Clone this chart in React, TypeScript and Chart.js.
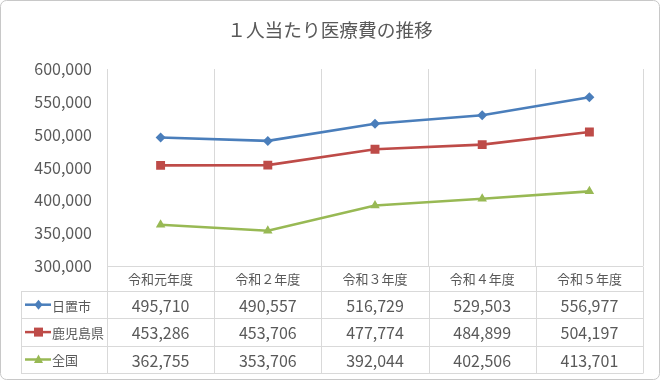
import React, { useEffect, useRef } from "react";
import { Chart, registerables } from "chart.js";

Chart.register(...registerables);

const titleText = "１人当たり医療費の推移";
const categories = ["令和元年度", "令和２年度", "令和３年度", "令和４年度", "令和５年度"];
const seriesNames = ["日置市", "鹿児島県", "全国"];
const hiokiValues = [495710, 490557, 516729, 529503, 556977];
const kagoshimaValues = [453286, 453706, 477774, 484899, 504197];
const nationalValues = [362755, 353706, 392044, 402506, 413701];
const yMin = 300000;
const yMax = 600000;
const yStep = 50000;

const FONT = "'Noto Sans CJK JP', 'Noto Sans', sans-serif";
const TEXT = "#595959";
const GRID = "#D9D9D9";
const COLORS = ["#4A7EBB", "#BE4B48", "#98B954"];
const STYLES = ["rectRot", "rect", "triangle"];

const fmt = (v: number) => v.toLocaleString("en-US");

function drawMarker(ctx: CanvasRenderingContext2D, style: string, x: number, y: number, color: string) {
  ctx.save();
  ctx.fillStyle = color;
  ctx.beginPath();
  if (style === "rectRot") {
    ctx.moveTo(x, y - 5);
    ctx.lineTo(x + 4, y);
    ctx.lineTo(x, y + 5);
    ctx.lineTo(x - 4, y);
  } else if (style === "rect") {
    ctx.rect(x - 4.5, y - 4.5, 9, 9);
  } else {
    ctx.moveTo(x, y - 5);
    ctx.lineTo(x + 4.5, y + 3.5);
    ctx.lineTo(x - 4.5, y + 3.5);
  }
  ctx.closePath();
  ctx.fill();
  ctx.restore();
}

const frameAndTable = {
  id: "frameAndTable",
  beforeDraw(chart: any) {
    const { ctx, width, height } = chart;
    ctx.save();
    ctx.fillStyle = "#ffffff";
    ctx.fillRect(0, 0, width, height);
    ctx.strokeStyle = "#C8C8C8";
    ctx.lineWidth = 1;
    ctx.beginPath();
    (ctx as any).roundRect(0.5, 0.5, width - 1, height - 1, 6);
    ctx.stroke();
    ctx.restore();
  },
  afterDraw(chart: any) {
    const { ctx, chartArea } = chart;
    const left = chartArea.left;
    const right = chartArea.right;
    const top = chartArea.bottom;
    const n = categories.length;
    const colW = (right - left) / n;
    const headerH = 25;
    const rowH = 27.4;
    const tableLeft = 21;
    const rowsTop = top + headerH;
    const bottom = rowsTop + rowH * seriesNames.length;
    const data = [hiokiValues, kagoshimaValues, nationalValues];

    ctx.save();
    ctx.strokeStyle = GRID;
    ctx.lineWidth = 1;
    ctx.beginPath();
    const ry = (v: number) => Math.round(v) + 0.5;
    ctx.moveTo(left, ry(top));
    ctx.lineTo(right, ry(top));
    for (let i = 0; i <= seriesNames.length; i++) {
      const y = ry(rowsTop + i * rowH);
      ctx.moveTo(tableLeft, y);
      ctx.lineTo(right, y);
    }
    ctx.moveTo(ry(tableLeft), ry(rowsTop));
    ctx.lineTo(ry(tableLeft), ry(bottom));
    for (let i = 0; i <= n; i++) {
      const x = ry(left + i * colW);
      ctx.moveTo(x, ry(top));
      ctx.lineTo(x, ry(bottom));
    }
    ctx.stroke();

    ctx.fillStyle = TEXT;
    ctx.textAlign = "center";
    ctx.textBaseline = "middle";
    ctx.font = `13px ${FONT}`;
    categories.forEach((c, i) => {
      ctx.fillText(c, left + colW * (i + 0.5), top + headerH / 2 + 1);
    });

    seriesNames.forEach((name, r) => {
      const cy = rowsTop + rowH * (r + 0.5);
      ctx.strokeStyle = COLORS[r];
      ctx.lineWidth = 2.5;
      ctx.beginPath();
      ctx.moveTo(25, cy);
      ctx.lineTo(51, cy);
      ctx.stroke();
      drawMarker(ctx, STYLES[r], 38.5, cy, COLORS[r]);
      ctx.fillStyle = TEXT;
      ctx.textAlign = "left";
      ctx.font = `13px ${FONT}`;
      ctx.fillText(name, 52, cy + 1);
      ctx.textAlign = "center";
      ctx.font = `16px ${FONT}`;
      data[r].forEach((v, i) => {
        ctx.fillText(fmt(v), left + colW * (i + 0.5), cy + 1);
      });
    });
    ctx.restore();
  },
};

export default function App() {
  const ref = useRef<HTMLCanvasElement | null>(null);
  useEffect(() => {
    document.body.style.margin = "0";
    if (!ref.current) return;
    const chart = new Chart(ref.current, {
      type: "line",
      data: {
        labels: categories,
        datasets: [hiokiValues, kagoshimaValues, nationalValues].map((vals, i) => ({
          label: seriesNames[i],
          data: vals,
          borderColor: COLORS[i],
          backgroundColor: COLORS[i],
          borderWidth: 2.6,
          pointStyle: STYLES[i] as any,
          pointRadius: i === 0 ? 5 : i === 1 ? 6.3 : 5.5,
          pointBorderWidth: 0,
          tension: 0,
          fill: false,
        })),
      },
      options: {
        responsive: false,
        animation: false,
        devicePixelRatio: 1,
        layout: { padding: { left: 0, right: 0, top: 0, bottom: 0 } },
        plugins: {
          legend: { display: false },
          tooltip: { enabled: false },
          title: {
            display: true,
            text: titleText,
            color: TEXT,
            font: { family: FONT, size: 18.7, weight: "normal" as any },
            padding: { top: 19, bottom: 27.6 },
          },
        },
        scales: {
          x: {
            type: "category",
            offset: true,
            ticks: { display: false },
            grid: { display: true, offset: true, color: GRID, drawTicks: false, lineWidth: 1 },
            border: { display: false },
            afterFit: (scale: any) => {
              scale.height = 114;
            },
          },
          y: {
            min: yMin,
            max: yMax,
            ticks: {
              stepSize: yStep,
              padding: 15,
              color: TEXT,
              font: { family: FONT, size: 16 },
              callback: (v: any) => fmt(Number(v)),
            },
            grid: { display: false, drawTicks: false },
            border: { display: false },
            afterFit: (scale: any) => {
              scale.width = 107;
            },
          },
          yRightSpace: {
            position: "right",
            display: true,
            min: yMin,
            max: yMax,
            ticks: { display: false },
            grid: { display: false, drawTicks: false },
            border: { display: false },
            afterFit: (scale: any) => {
              scale.width = 17;
            },
          },
        },
      },
      plugins: [frameAndTable],
    });
    return () => chart.destroy();
  }, []);
  return (
    <div style={{ width: 660, height: 380 }}>
      <canvas ref={ref} width={660} height={380} style={{ display: "block", width: 660, height: 380 }} />
    </div>
  );
}
